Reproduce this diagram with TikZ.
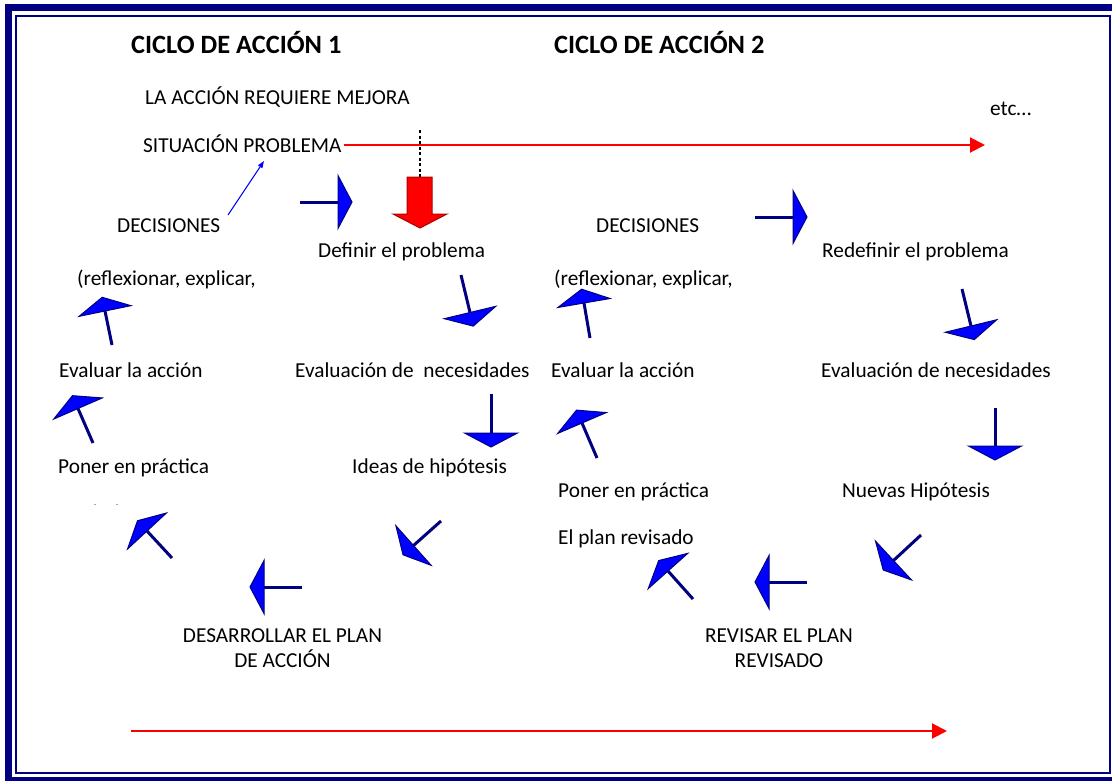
\documentclass[tikz,border=0pt]{standalone}
\usepackage{fontspec}
\setmainfont{Carlito}
\usetikzlibrary{calc,arrows.meta}
\definecolor{navyb}{RGB}{0,0,128}
\definecolor{bfill}{RGB}{0,0,255}
\definecolor{dred}{RGB}{170,0,0}
\tikzset{
  txt/.style={anchor=base west,inner sep=0pt,font=\fontsize{21.3}{25}\selectfont},
  ttl/.style={anchor=base west,inner sep=0pt,font=\fontsize{26.4}{30}\selectfont\bfseries},
  ctxt/.style={anchor=base,inner sep=0pt,font=\fontsize{21.3}{25}\selectfont},
  bshaft/.style={draw=navyb,line width=3pt},
  bhead/.style={draw=navyb,fill=bfill,line width=1pt,line join=miter},
  redarrow/.style={draw=red,line width=2pt,-{Triangle[length=15pt,width=15pt]}},
}
\newcommand\barrow[2]{%
  \draw[bshaft] (#1) -- (#2);
  \filldraw[bhead] ($(#2)!26.5pt!90:(#1)$) -- ($(#2)!-14pt!(#1)$) -- ($(#2)!26.5pt!-90:(#1)$) -- cycle;}
\begin{document}
\begin{tikzpicture}[x=1pt,y=-1pt]
\useasboundingbox (0,0) rectangle (1112,780);
\fill[white] (0,0) rectangle (1112,780);
% borders
\draw[navyb,line width=7.3pt] (8.7,7.8) rectangle (1119,781);
\draw[navyb,line width=2pt] (15.5,15.5) rectangle (1109.5,773);
% titles
\node[ttl] (t1) at (131,53) {CICLO DE ACCIÓN 1};
\node[ttl] (t2) at (554,53) {CICLO DE ACCIÓN 2};
% texts
\node[txt] (req) at (145,104) {LA ACCIÓN REQUIERE MEJORA};
\node[txt] (etc) at (990,115) {etc…};
\node[txt] (sit) at (143,152) {SITUACIÓN PROBLEMA};
\node[txt] (dec1) at (117,232) {DECISIONES};
\node[txt] (def) at (318,257) {Definir el problema};
\node[txt] (ref1) at (77,285) {(reflexionar, explicar,};
\node[txt] (eva1) at (59,377) {Evaluar la acción};
\node[txt] (nec1) at (295,377) {Evaluación de\ \ necesidades};
\node[txt] (ide) at (352,473) {Ideas de hipótesis};
\node[txt] (pon1) at (58,473) {Poner en práctica};
\node[ctxt] (des) at (282.5,642) {DESARROLLAR EL PLAN};
\node[ctxt] (des2) at (282.5,667) {DE ACCIÓN};
\node[txt] (dec2) at (596,232) {DECISIONES};
\node[txt] (redef) at (822,257) {Redefinir el problema};
\node[txt] (ref2) at (554,285) {(reflexionar, explicar,};
\node[txt] (eva2) at (551,377) {Evaluar la acción};
\node[txt] (nec2) at (821,377) {Evaluación de necesidades};
\node[txt] (pon2) at (558,497) {Poner en práctica};
\node[txt] (nue) at (842,497) {Nuevas Hipótesis};
\node[txt] (pla) at (558,544) {El plan revisado};
\node[ctxt] (rev) at (779,642) {REVISAR EL PLAN};
\node[ctxt] (rev2) at (779,667) {REVISADO};
% tiny marks
\fill[gray!70] (94,503.5) rectangle (96,505);
\fill[gray!70] (116,503.5) rectangle (118,505);
% red arrows
\coordinate (r1e) at (985,145);
\draw[redarrow] (sit.east |- 0,145) ++(2,0) -- (r1e);
\coordinate (r2s) at (131,731);
\coordinate (r2e) at (947,731);
\draw[redarrow] (r2s) -- (r2e);
% dotted line and red block arrow
\coordinate (dtop) at (420,130);
\coordinate (dbot) at (420,177);
\draw[black,line width=2.5pt,dash pattern=on 3pt off 2.5pt] (dtop) -- (dbot);
\filldraw[fill=red,draw=dred,line width=1pt] (407,177) -- (432,177) -- (432,214) -- (447,214) -- (420,228) -- (393,214) -- (407,214) -- cycle;
% thin blue arrow
\coordinate (tbs) at (228,215);
\coordinate (tbe) at (264,161);
\draw[bfill,line width=1pt,-{Triangle[length=7pt,width=5pt]}] (tbs) -- (tbe);
% blue arrows
\coordinate (a1s) at (300,202); \coordinate (a1e) at (338,202);
\coordinate (a2s) at (755,217); \coordinate (a2e) at (793,217);
\coordinate (a3s) at (461,275); \coordinate (a3e) at (470,312.5);
\coordinate (a4s) at (491,394); \coordinate (a4e) at (491,433);
\coordinate (a5s) at (962,289); \coordinate (a5e) at (971,326);
\coordinate (a6s) at (995,408); \coordinate (a6e) at (995,446);
\coordinate (a7s) at (921,535); \coordinate (a7e) at (893.5,560.5);
\coordinate (a8s) at (807,582); \coordinate (a8e) at (769,582);
\coordinate (a9s) at (693,599); \coordinate (a9e) at (668,571);
\coordinate (a10s) at (302,587); \coordinate (a10e) at (264,587);
\coordinate (a11s) at (441,521); \coordinate (a11e) at (413.5,545.5);
\coordinate (a12s) at (172,558); \coordinate (a12e) at (147,531);
\coordinate (a13s) at (93,443); \coordinate (a13e) at (78,408.5);
\coordinate (a14s) at (112,345); \coordinate (a14e) at (105,311);
\coordinate (a15s) at (590,338); \coordinate (a15e) at (584,303);
\coordinate (a16s) at (597,458); \coordinate (a16e) at (582,423);
\foreach \i in {1,...,16}{\barrow{a\i s}{a\i e}}
\end{tikzpicture}
\end{document}
